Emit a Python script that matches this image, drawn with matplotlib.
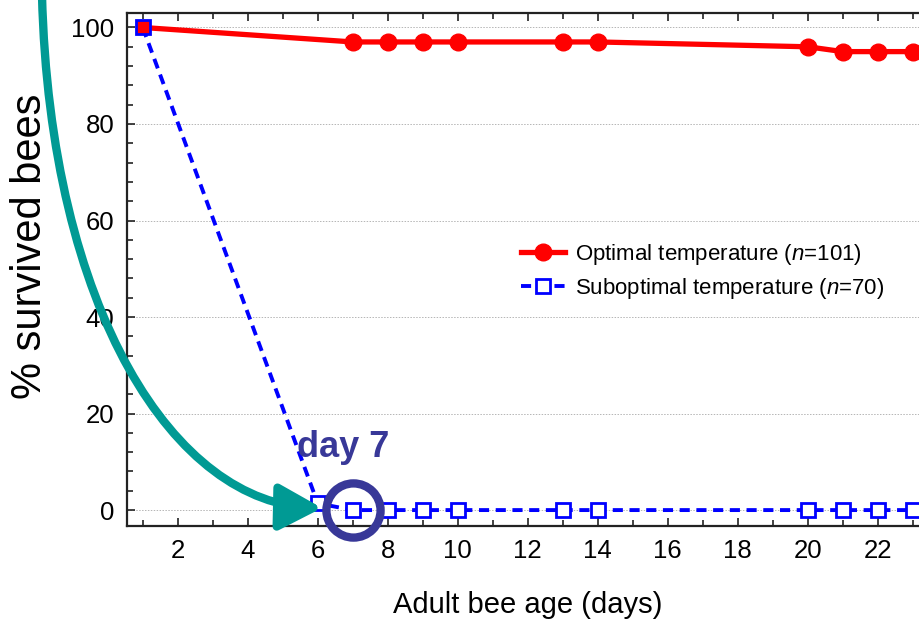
import matplotlib
matplotlib.use("Agg")
import matplotlib.pyplot as plt
from matplotlib.patches import FancyArrowPatch
from matplotlib.path import Path
from matplotlib.ticker import MultipleLocator

# survival data (% of bees alive at each adult age)
opt_days = [1, 7, 8, 9, 10, 13, 14, 20, 21, 22, 23]
opt_survival = [100, 97.0, 97.0, 97.0, 97.0, 97.0, 97.0, 96.0, 95.0, 95.0, 95.0]
sub_days = [1, 6, 7, 8, 9, 10, 13, 14, 20, 21, 22, 23]
sub_survival = [100, 1.4, 0, 0, 0, 0, 0, 0, 0, 0, 0, 0]
opt_label = "Optimal temperature ($n$=101)"
sub_label = "Suboptimal temperature ($n$=70)"
x_ticks = [2, 4, 6, 8, 10, 12, 14, 16, 18, 20, 22]
highlight_day = 7

plt.rcParams["font.family"] = ["Liberation Sans", "DejaVu Sans"]
plt.rcParams["mathtext.fontset"] = "custom"
plt.rcParams["mathtext.rm"] = "Liberation Sans"
plt.rcParams["mathtext.it"] = "Liberation Sans:italic"

W, H = 920, 626
fig = plt.figure(figsize=(W / 100, H / 100), dpi=100)
ax = fig.add_axes([127 / W, 100 / H, 820.75 / W, 513 / H])

ax.plot(opt_days, opt_survival, "-o", color="#ff0000", lw=3.8, ms=12,
        markevery=slice(1, None), zorder=3, label=opt_label)
ax.plot(sub_days, sub_survival, color="#0000ff", lw=2.8, ls=(0, (2.6, 1.7)),
        marker="s", ms=10, mfc="white", mec="#0000ff", mew=2,
        markevery=slice(1, None), zorder=4, label=sub_label)
# first point: red filled square with blue edge
ax.plot(sub_days[:1], sub_survival[:1], "s", ms=10, mfc="#ff0000",
        mec="#0000ff", mew=2, zorder=5)

# highlight circle + text
navy = "#383898"
hi = sub_days.index(highlight_day)
ax.plot(sub_days[hi], sub_survival[hi], "o", ms=39, mfc="none", mec=navy,
        mew=6, zorder=6, clip_on=False)
ax.text(5.4, 11, "day 7", color=navy, fontsize=26, fontweight="bold",
        ha="left", va="baseline", zorder=6)

ax.set_xlim(0.55, 24.0)
ax.set_ylim(-3.3, 103)
ax.set_xticks(x_ticks)
ax.xaxis.set_minor_locator(MultipleLocator(1))
ax.yaxis.set_major_locator(MultipleLocator(20))
ax.yaxis.set_minor_locator(MultipleLocator(4))
ax.tick_params(which="both", direction="in", top=True, right=False,
               color="#222222", labelsize=18.5, pad=9)
ax.tick_params(which="major", length=6, width=1.2)
ax.tick_params(which="minor", length=4, width=1.2)
ax.grid(axis="y", which="major", ls=(0, (1.5, 1.5)), lw=0.7, color="#b5b5b5")
ax.set_axisbelow(True)
for s in ax.spines.values():
    s.set_linewidth(1.6)
    s.set_color("#222222")

leg = ax.legend(loc="upper left", bbox_to_anchor=(501 / W, 1 - 222 / H),
                bbox_transform=fig.transFigure, frameon=False, fontsize=16,
                handlelength=2.0, handletextpad=0.45, labelspacing=0.4)

fig.text(528 / W, 1 - 605 / H, "Adult bee age (days)", fontsize=21,
         ha="center", va="center")
fig.text(30 / W, 1 - 246 / H, "% survived bees", fontsize=30, rotation=90,
         ha="center", va="center")

# teal curved arrow (figure pixel coordinates, y down)
pts = [(42, -5), (50, 310), (175, 505), (322, 508)]
verts = [(x / W, 1 - y / H) for x, y in pts]
path = Path(verts, [Path.MOVETO, Path.CURVE4, Path.CURVE4, Path.CURVE4])
arrow = FancyArrowPatch(path=path, transform=fig.transFigure,
                        arrowstyle="-|>,head_length=26,head_width=14",
                        mutation_scale=1, lw=6, color="#009a94", zorder=7)
fig.patches.append(arrow)

fig.savefig("out.png", dpi=100)
